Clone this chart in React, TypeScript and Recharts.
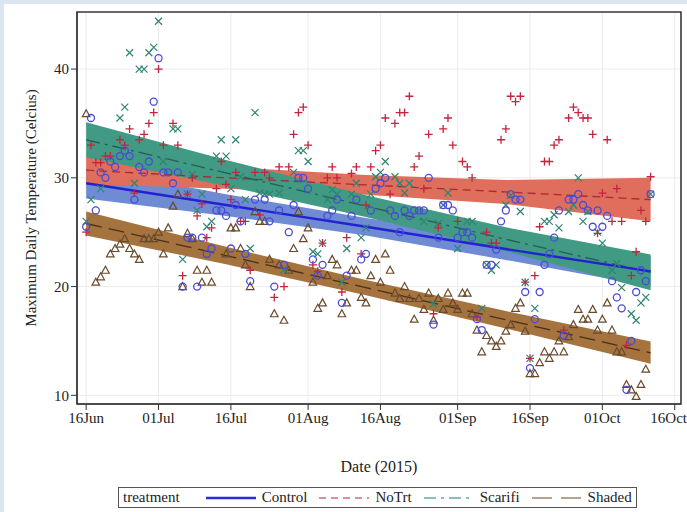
import React from 'react';
import {
  ComposedChart,
  Area,
  Line,
  Scatter,
  XAxis,
  YAxis,
  CartesianGrid,
  ReferenceArea,
  Legend,
  Label,
} from 'recharts';

// day 0 = 16Jun 2015
const tickDays = [0, 15, 30, 46, 61, 77, 92, 107, 122];
const tickLabels = ['16Jun', '01Jul', '16Jul', '01Aug', '16Aug', '01Sep', '16Sep', '01Oct', '16Oct'];
const tempTicks = [10, 20, 30, 40];

const controlPts: [number, number][] = [
  [0, 25.5], [1, 35.5], [2, 27], [3, 30.5], [4, 30], [5, 31.5], [6, 31], [7, 32], [8, 32.5], [9, 32],
  [10, 28], [11, 31], [12, 30.5], [13, 31.5], [14, 37], [15, 41], [16, 30.5], [17, 30.5], [18, 29.5], [19, 30.5],
  [20, 20], [21, 24.5], [22, 24.5], [23, 20], [24, 24.5], [25, 23], [26, 23.5], [27, 27], [28, 27], [29, 26.5],
  [30, 23.5], [31, 27.5], [32, 26], [33, 23], [34, 20.5], [35, 28], [37, 28], [38, 26], [39, 20], [40, 27],
  [41, 22], [42, 25], [43, 27.5], [44, 30], [45, 30], [46, 29], [47, 22.5], [48, 21], [49, 22], [50, 26.5],
  [51, 27], [52, 28], [53, 18.5], [54, 21], [55, 26.5], [56, 28], [57, 22.5], [58, 23], [59, 27], [60, 29],
  [61, 29.5], [62, 30], [63, 27], [64, 26.5], [65, 25], [66, 27], [67, 26.5], [68, 27], [69, 27], [70, 27],
  [71, 30], [72, 16.5], [73, 24.5], [74, 27.5], [75, 27.5], [76, 27], [77, 24.5], [78, 25], [79, 25], [80, 24.5],
  [81, 17], [82, 16], [83, 22], [84, 22], [85, 23.4], [86, 26], [87, 27], [88, 28.5], [89, 28], [90, 28],
  [91, 19.5], [92, 12.5], [93, 17], [94, 19.5], [95, 22], [96, 23], [97, 24.5], [98, 27], [99, 15.5], [100, 28],
  [101, 28], [102, 28.5], [103, 27.5], [104, 27], [105, 25.5], [106, 27], [107, 25.5], [108, 26.5], [109, 20.5], [110, 19],
  [111, 18], [112, 10.5], [113, 15], [114, 19.5], [115, 21.5], [116, 20.5], [117, 28.5],
];

const noTrtPts: [number, number][] = [
  [0, 25], [1, 33], [2, 31.4], [3, 31.4], [4, 32], [5, 32], [7, 33.5], [8, 33], [9, 34.5], [10, 28.6],
  [11, 33.5], [12, 34], [13, 35], [14, 36], [15, 40], [16, 33], [18, 35], [19, 33], [20, 21], [21, 28.5],
  [22, 30], [23, 26.5], [24, 27.6], [25, 24.5], [26, 25.4], [27, 29], [28, 31.5], [29, 29.4], [30, 28], [31, 30.5],
  [32, 26], [33, 26], [34, 21.5], [35, 30.5], [36, 26.6], [37, 30.5], [38, 30], [39, 19], [40, 31], [41, 20],
  [42, 31], [43, 34], [44, 36], [45, 36.5], [46, 33], [47, 22], [48, 21.4], [49, 24], [50, 30], [51, 31],
  [52, 30], [53, 19.5], [54, 24.5], [55, 30.4], [56, 31], [57, 23], [58, 27.5], [59, 31], [60, 32.5], [61, 33],
  [62, 35.5], [63, 28.5], [64, 35], [65, 36], [66, 36], [67, 37.5], [68, 31], [69, 32], [70, 29], [71, 34],
  [72, 17.5], [73, 25.4], [74, 34.5], [75, 35.5], [76, 33], [77, 26], [78, 31.5], [79, 31], [80, 30], [81, 17.2],
  [83, 25], [84, 24], [85, 24], [86, 33.5], [87, 34.5], [88, 37.5], [89, 37], [90, 37.5], [91, 20.4], [92, 13.4],
  [93, 21], [94, 25.5], [95, 31.5], [96, 31.5], [97, 33], [98, 33.5], [99, 16], [100, 35.5], [101, 36.5], [102, 36],
  [103, 35.5], [104, 35.5], [105, 34], [106, 24.9], [107, 28.6], [108, 33.5], [109, 26], [110, 29], [111, 26], [112, 14.6],
  [113, 21], [114, 23.2], [115, 27], [116, 26], [117, 30.1],
];

const scarifiPts: [number, number][] = [
  [0, 26], [1, 28], [3, 29], [7, 35.5], [8, 36.5], [9, 41.5], [10, 29.5], [11, 40], [12, 40], [13, 41.5],
  [14, 42], [15, 44.4], [16, 31.5], [18, 34.5], [19, 34.5], [20, 22.5], [21, 28.5], [22, 30.3], [23, 27], [24, 28.5],
  [25, 25.5], [26, 26], [27, 32], [28, 33.5], [29, 32], [30, 29], [31, 33.5], [32, 30.1], [33, 28], [34, 23.5],
  [35, 36], [36, 28.6], [37, 28.5], [38, 28.5], [40, 28.6], [41, 21.5], [43, 30.5], [44, 32.5], [45, 32.5], [46, 31.5],
  [47, 23.2], [48, 23], [49, 24], [50, 28], [51, 28.9], [52, 28.5], [53, 20.4], [54, 23.5], [55, 28.5], [56, 29.5],
  [57, 24.5], [58, 25.4], [59, 28.5], [60, 30.1], [61, 30.5], [62, 31.5], [64, 30.1], [65, 29.5], [66, 28.6], [67, 29.5],
  [70, 26], [72, 18.4], [73, 25.8], [74, 27.5], [75, 28.6], [77, 23.5], [79, 26], [80, 26], [82, 18], [83, 22],
  [84, 21.5], [85, 22], [87, 27.5], [88, 28.4], [90, 26.9], [91, 20.4], [92, 13.4], [93, 18], [95, 26], [96, 26],
  [97, 26.6], [98, 25.4], [100, 26.9], [101, 27.5], [102, 30], [103, 26], [104, 26.9], [106, 25], [107, 24], [109, 21.5],
  [110, 22.1], [111, 19.9], [113, 17.5], [114, 16.9], [115, 18.5], [116, 19], [117, 28.5],
];

const shadedPts: [number, number][] = [
  [0, 35.9], [2, 20.4], [3, 20.9], [4, 21.5], [5, 23], [6, 23.5], [7, 23.9], [8, 24.4], [9, 23.5], [10, 23],
  [11, 22.5], [12, 24.4], [13, 24.4], [14, 24.4], [15, 25], [16, 23], [17, 25.4], [18, 27.4], [19, 28.5], [20, 20],
  [21, 24.9], [22, 24.4], [23, 21.5], [24, 20.4], [25, 21.5], [26, 20.4], [29, 23], [30, 25.4], [31, 25.4], [32, 23.5],
  [33, 22], [34, 20], [35, 26.9], [36, 26], [37, 26], [38, 22.5], [39, 17.5], [40, 22], [41, 16.9], [42, 21.5],
  [43, 23.5], [44, 26.9], [45, 24.4], [46, 25.4], [47, 20.4], [48, 18], [49, 18.5], [50, 21], [51, 22.5], [52, 22],
  [53, 17.5], [54, 18.5], [55, 21.5], [56, 21.5], [57, 19], [58, 18.5], [59, 21], [60, 22.5], [61, 20.4], [62, 23],
  [63, 21.5], [64, 19.4], [65, 18.9], [66, 20], [67, 18.9], [68, 17], [69, 18.9], [70, 17.9], [71, 19.4], [72, 16.9],
  [73, 18.9], [74, 17.9], [75, 19.4], [76, 18.5], [77, 17.9], [78, 19.4], [79, 19.4], [80, 17.5], [81, 16], [82, 14],
  [83, 15.5], [84, 15], [85, 14.5], [86, 15], [87, 15.9], [88, 16.5], [89, 18], [90, 18.5], [91, 15.9], [92, 12],
  [93, 12], [94, 13], [95, 14], [96, 13.4], [97, 14], [98, 15], [99, 14], [100, 15.4], [101, 16.5], [102, 17.9],
  [103, 17], [104, 17], [105, 17.9], [106, 16], [107, 17], [108, 18.5], [109, 16], [110, 14], [111, 14], [112, 11],
  [113, 10.5], [114, 9.9], [115, 11], [116, 12.4],
];

// regression fits and confidence limits, read at these days
const fitDays = [0, 29, 58, 87, 117];
const controlFit = [29.5, 27.5, 25.5, 23.45, 21.4];
const controlLo = [28.1, 26.5, 24.7, 22.45, 20.0];
const controlHi = [30.9, 28.5, 26.3, 24.45, 22.8];
const noTrtFit = [30.7, 30.0, 29.35, 28.7, 28.0];
const noTrtLo = [29.4, 29.0, 28.45, 27.6, 26.0];
const noTrtHi = [32.0, 31.0, 30.25, 29.8, 30.0];
const scarifiFit = [33.5, 30.45, 27.4, 24.35, 21.3];
const scarifiLo = [31.9, 29.25, 26.4, 23.25, 19.65];
const scarifiHi = [35.1, 31.65, 28.4, 25.45, 22.95];
const shadedFit = [25.8, 22.85, 19.9, 16.95, 13.9];
const shadedLo = [24.7, 22.05, 19.2, 16.15, 12.9];
const shadedHi = [26.9, 23.65, 20.6, 17.75, 14.95];

const fitRows = fitDays.map((day, i) => ({
  day,
  control: controlFit[i],
  controlBand: [controlLo[i], controlHi[i]],
  noTrt: noTrtFit[i],
  noTrtBand: [noTrtLo[i], noTrtHi[i]],
  scarifi: scarifiFit[i],
  scarifiBand: [scarifiLo[i], scarifiHi[i]],
  shaded: shadedFit[i],
  shadedBand: [shadedLo[i], shadedHi[i]],
}));

const toRows = (pts: [number, number][]) => pts.map(([day, temp]) => ({ day, temp }));

const FONT = '"Liberation Serif", "DejaVu Serif", serif';

const CircleMark = (p: any) => (
  <circle cx={p.cx} cy={p.cy} r={3.5} fill="none" stroke="#4a4ad8" strokeWidth={1.3} />
);
const PlusMark = (p: any) => (
  <path d={`M${p.cx - 4},${p.cy}H${p.cx + 4}M${p.cx},${p.cy - 4}V${p.cy + 4}`} stroke="#c4243f" strokeWidth={1.3} />
);
const CrossMark = (p: any) => (
  <path
    d={`M${p.cx - 3.5},${p.cy - 3.5}L${p.cx + 3.5},${p.cy + 3.5}M${p.cx - 3.5},${p.cy + 3.5}L${p.cx + 3.5},${p.cy - 3.5}`}
    stroke="#2e8572"
    strokeWidth={1.2}
  />
);
const TriMark = (p: any) => (
  <path
    d={`M${p.cx},${p.cy - 4}L${p.cx + 3.8},${p.cy + 3}L${p.cx - 3.8},${p.cy + 3}Z`}
    fill="none"
    stroke="#6a4a2c"
    strokeWidth={1.2}
  />
);

const legendItems = [
  { name: 'Control', color: '#2b2bd8', dash: undefined, width: 2.6 },
  { name: 'NoTrt', color: '#d4687a', dash: '7 5', width: 1.6 },
  { name: 'Scarifi', color: '#62aaa2', dash: '12 5 3 5', width: 1.6 },
  { name: 'Shaded', color: '#a08466', dash: '20 9', width: 1.6 },
];

const LegendBox = () => (
  <div
    style={{
      boxSizing: 'border-box',
      width: 519,
      height: 21,
      border: '1px solid #555',
      display: 'flex',
      alignItems: 'center',
      fontFamily: FONT,
      fontSize: 15,
      color: '#222',
      paddingLeft: 4,
      background: '#fff',
      whiteSpace: 'nowrap',
    }}
  >
    <span style={{ marginRight: 26 }}>treatment</span>
    {legendItems.map((it) => (
      <span key={it.name} style={{ display: 'flex', alignItems: 'center', marginRight: 12 }}>
        <svg width={50} height={10} style={{ marginRight: 6 }}>
          <line x1={0} y1={5} x2={50} y2={5} stroke={it.color} strokeWidth={it.width} strokeDasharray={it.dash} />
        </svg>
        <span>{it.name}</span>
      </span>
    ))}
  </div>
);

export default function App() {
  return (
    <div style={{ position: 'absolute', left: 0, top: 0, width: 687, height: 512, background: '#dce6f2' }}>
      <div style={{ position: 'absolute', left: 4, top: 4, width: 683, height: 508, background: '#fff' }}>
        <ComposedChart
          width={683}
          height={508}
          data={fitRows}
          margin={{ top: 8, right: 6, left: 28, bottom: 4 }}
        >
          <CartesianGrid stroke="#ececec" strokeWidth={1} />
          <XAxis
            dataKey="day"
            type="number"
            domain={[-1.9, 123.3]}
            allowDataOverflow
            ticks={tickDays}
            tickFormatter={(v: number) => tickLabels[tickDays.indexOf(v)] ?? ''}
            tick={{ fill: '#222', fontSize: 15, fontFamily: FONT }}
            tickLine={{ stroke: '#333' }}
            axisLine={{ stroke: '#333' }}
            tickSize={6}
            height={83}
          >
            <Label
              content={(props: any) => {
                const vb = props.viewBox;
                return (
                  <text
                    x={vb.x + vb.width / 2}
                    y={vb.y + 68}
                    textAnchor="middle"
                    fontFamily={FONT}
                    fontSize={16}
                    fill="#222"
                  >
                    Date (2015)
                  </text>
                );
              }}
            />
          </XAxis>
          <YAxis
            type="number"
            domain={[9.2, 45.25]}
            allowDataOverflow
            ticks={tempTicks}
            tick={{ fill: '#222', fontSize: 15, fontFamily: FONT }}
            tickLine={{ stroke: '#333' }}
            axisLine={{ stroke: '#333' }}
            tickSize={6}
            width={45}
          >
            <Label
              content={(props: any) => {
                const vb = props.viewBox;
                const x = vb.x + 4;
                const y = vb.y + vb.height / 2;
                return (
                  <text
                    x={x}
                    y={y}
                    transform={`rotate(-90 ${x} ${y})`}
                    textAnchor="middle"
                    fontFamily={FONT}
                    fontSize={15}
                    fill="#222"
                  >
                    Maximum Daily Temperature (Celcius)
                  </text>
                );
              }}
            />
          </YAxis>
          <Legend verticalAlign="bottom" content={<LegendBox />} wrapperStyle={{ left: 114, width: 519, bottom: 4 }} />

          <Area dataKey="controlBand" type="linear" stroke="none" fill="#6e8bd3" fillOpacity={1} isAnimationActive={false} dot={false} activeDot={false} legendType="none" />
          <Area dataKey="noTrtBand" type="linear" stroke="none" fill="#df6e5c" fillOpacity={1} isAnimationActive={false} dot={false} activeDot={false} legendType="none" />
          <Area dataKey="scarifiBand" type="linear" stroke="none" fill="#409a84" fillOpacity={1} isAnimationActive={false} dot={false} activeDot={false} legendType="none" />
          <Area dataKey="shadedBand" type="linear" stroke="none" fill="#a5733e" fillOpacity={1} isAnimationActive={false} dot={false} activeDot={false} legendType="none" />

          <Line dataKey="noTrt" type="linear" stroke="#a82a34" strokeWidth={1.3} strokeDasharray="8 5" dot={false} activeDot={false} isAnimationActive={false} />
          <Line dataKey="scarifi" type="linear" stroke="#245f52" strokeWidth={1.3} strokeDasharray="14 5 3 5" dot={false} activeDot={false} isAnimationActive={false} />
          <Line dataKey="shaded" type="linear" stroke="#4a3018" strokeWidth={1.3} strokeDasharray="16 7" dot={false} activeDot={false} isAnimationActive={false} />
          <Line dataKey="control" type="linear" stroke="#2222d2" strokeWidth={2.4} dot={false} activeDot={false} isAnimationActive={false} />

          <Scatter name="Shaded" data={toRows(shadedPts)} dataKey="temp" shape={<TriMark />} isAnimationActive={false} />
          <Scatter name="Scarifi" data={toRows(scarifiPts)} dataKey="temp" shape={<CrossMark />} isAnimationActive={false} />
          <Scatter name="NoTrt" data={toRows(noTrtPts)} dataKey="temp" shape={<PlusMark />} isAnimationActive={false} />
          <Scatter name="Control" data={toRows(controlPts)} dataKey="temp" shape={<CircleMark />} isAnimationActive={false} />

          <ReferenceArea x1={-1.9} x2={123.3} y1={9.2} y2={45.25} fill="none" stroke="#3a3a3a" strokeWidth={1.6} ifOverflow="visible" />
        </ComposedChart>
      </div>
    </div>
  );
}
